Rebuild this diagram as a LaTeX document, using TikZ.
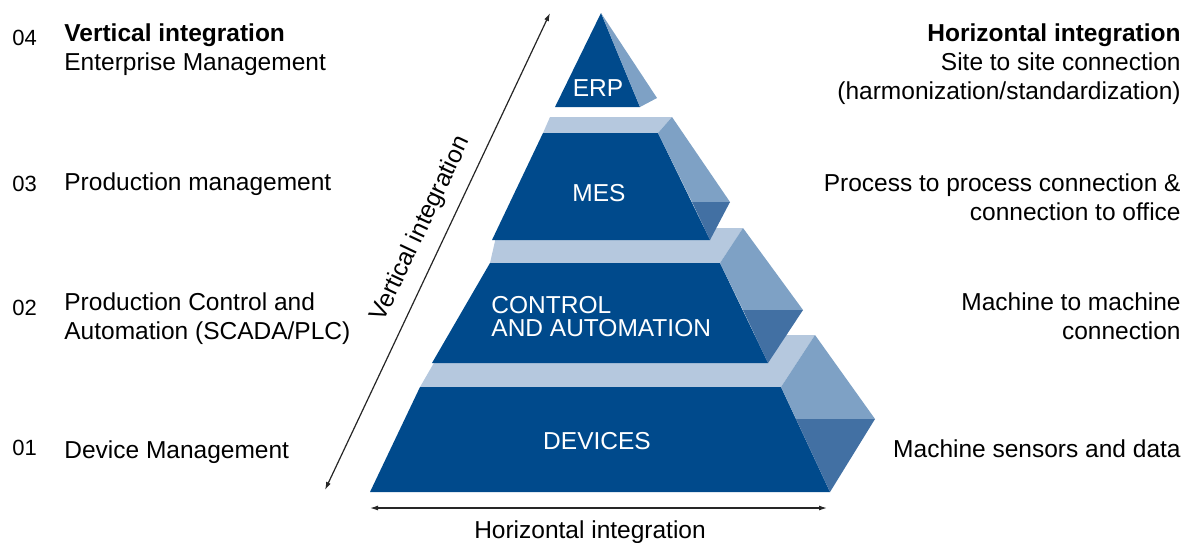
\documentclass[tikz,border=0pt]{standalone}
\usepackage{fontspec}
\setmainfont{Liberation Sans}
\usepackage{tikz}
\usetikzlibrary{arrows.meta}
\definecolor{pyrfront}{RGB}{0,74,140}
\definecolor{pyrtop}{RGB}{181,200,222}
\definecolor{pyrside}{RGB}{126,161,197}
\definecolor{pyrshade}{RGB}{66,112,163}
\tikzset{%
	front/.style = {fill=pyrfront},
	topface/.style = {fill=pyrtop},
	sideface/.style = {fill=pyrside},
	shadeface/.style = {fill=pyrshade},
	layer/.style = {text=white, inner sep=0pt},
	lefttext/.style = {anchor=base west, inner sep=0pt},
	righttext/.style = {anchor=base east, inner sep=0pt},
	levelnum/.style = {anchor=base west, inner sep=0pt, font=\fontsize{11}{13}\selectfont},
	axis/.style = {draw=black!85, line width=0.6pt,
		{Latex[length=4pt,width=2.5pt]}-{Latex[length=4pt,width=2.5pt]}}
}

\begin{document}
\begin{tikzpicture}[x=0.5pt, y=-0.5pt]
    \fontsize{12.25}{14.5}\selectfont
    \useasboundingbox (0,0) rectangle (1192,542);

    % Pyramid blocks (bottom to top)
    \fill[topface]   (420,387) -- (781,387) -- (815,335) -- (450,335) -- cycle;
    \fill[front]     (370,492) -- (830,492) -- (781,387) -- (420,387) -- cycle;
    \fill[sideface]  (781,387) -- (815,335) -- (875,419) -- (796,419) -- cycle;
    \fill[shadeface] (796,419) -- (875,419) -- (830,492) -- cycle;

    \fill[topface]   (490,263) -- (720,263) -- (743,228) -- (498,228) -- cycle;
    \fill[front]     (432,363) -- (768,363) -- (720,263) -- (490,263) -- cycle;
    \fill[sideface]  (720,263) -- (743,228) -- (803,310) -- (743,310) -- cycle;
    \fill[shadeface] (743,310) -- (803,310) -- (768,363) -- cycle;

    \fill[topface]   (543,133) -- (658,133) -- (672,117) -- (550,117) -- cycle;
    \fill[front]     (492,240) -- (710,240) -- (658,133) -- (543,133) -- cycle;
    \fill[sideface]  (658,133) -- (672,117) -- (730,202) -- (692,202) -- cycle;
    \fill[shadeface] (692,202) -- (730,202) -- (710,240) -- cycle;

    \fill[front]     (555,107) -- (640,107) -- (601,13) -- cycle;
    \fill[sideface]  (601,13) -- (657,98) -- (640,107) -- cycle;

    % Layer names
    \node (erp)       [layer]                              at (598,88)  {ERP};
    \node (mes)       [layer]                              at (599,193) {MES};
    \node (control)   [layer, anchor=west, align=left,
                       font=\fontsize{12.25}{11.5}\selectfont] at (491,317) {CONTROL\\AND AUTOMATION};
    \node (devices)   [layer]                              at (597,441) {DEVICES};

    % Left column
    \node (num04)     [levelnum]                           at (12,45)   {04};
    \node (vertint)   [lefttext, font=\bfseries]           at (64,41)   {Vertical integration};
    \node (enterprise)[lefttext]                           at (64,70)   {Enterprise Management};
    \node (num03)     [levelnum]                           at (12,191)  {03};
    \node (prodmgmt)  [lefttext]                           at (64,190)  {Production management};
    \node (num02)     [levelnum]                           at (12,315)  {02};
    \node (prodctrl)  [lefttext]                           at (64,310)  {Production Control and};
    \node (automation)[lefttext]                           at (64,339)  {Automation (SCADA/PLC)};
    \node (num01)     [levelnum]                           at (12,455)  {01};
    \node (devmgmt)   [lefttext]                           at (64,458)  {Device Management};

    % Right column
    \node (horint)    [righttext, font=\bfseries]          at (1181,41)  {Horizontal integration};
    \node (site)      [righttext]                          at (1181,70)  {Site to site connection};
    \node (harmon)    [righttext]                          at (1181,99)  {(harmonization/standardization)};
    \node (process)   [righttext]                          at (1181,191) {Process to process connection \&};
    \node (office)    [righttext]                          at (1181,220) {connection to office};
    \node (machine)   [righttext]                          at (1181,310) {Machine to machine};
    \node (connect)   [righttext]                          at (1181,339) {connection};
    \node (sensors)   [righttext]                          at (1181,457) {Machine sensors and data};

    % Integration axes
    \coordinate (vlow)   at (325,490);
    \coordinate (vhigh)  at (550,13);
    \coordinate (hleft)  at (370,508);
    \coordinate (hright) at (827,508);
    \draw[axis]               (vlow) -- (vhigh);
    \draw[axis]               (hleft) -- (hright);
    \node (vlabel)    [rotate=64.7]                        at (421,229) {Vertical integration};
    \node (hlabel)    [anchor=base]                        at (590,538) {Horizontal integration};

\end{tikzpicture}
\end{document}
